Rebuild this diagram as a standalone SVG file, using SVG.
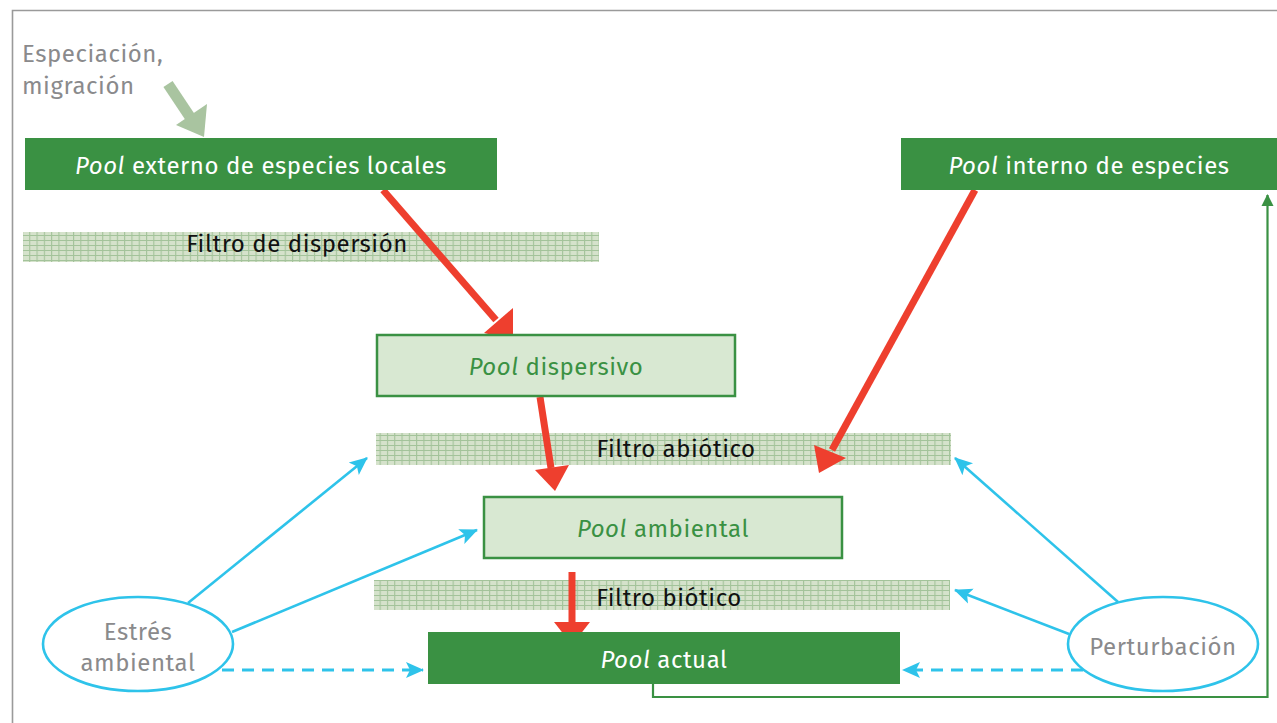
<svg xmlns="http://www.w3.org/2000/svg" width="1277" height="723" viewBox="0 0 1277 723">
<style>
.t{font-family:"Fira Sans","Open Sans","Noto Sans",sans-serif;font-size:24px;letter-spacing:0.55px}
.w{fill:#ffffff}
.g{fill:#3a9143}
.gr{fill:#8a8a8c}
.k{fill:#111111}
.dark{fill:#3a9143}
.light{fill:#d8e8d2;stroke:#3a9143;stroke-width:2.5}
.red{stroke:#ee3f2e;stroke-width:7;fill:none}
.blue{stroke:#2ec3ea;stroke-width:2.6;fill:none}
.dash{stroke-dasharray:12 8;stroke-width:3}
.ell{fill:#ffffff;stroke:#2ec3ea;stroke-width:2.6}
</style>
<defs>
<pattern id="grid" width="7.3" height="5" patternUnits="userSpaceOnUse">
<rect width="7.3" height="5" fill="#d5e2cb"/>
<path d="M0 0.5H7.3M0.5 0V5" stroke="#a3c39a" stroke-width="1.2"/>
</pattern>
<marker id="bh2" markerWidth="18" markerHeight="18" refX="17" refY="9" orient="auto" markerUnits="userSpaceOnUse" viewBox="0 0 18 18"><path d="M0 1L18 9L0 17L4 9z" fill="#2ec3ea"/></marker>
<marker id="gh" markerWidth="12" markerHeight="14" refX="11" refY="7" orient="auto" markerUnits="userSpaceOnUse" viewBox="0 0 12 14"><path d="M0 1L12 7L0 13z" fill="#3a9143"/></marker>
</defs>
<rect width="1277" height="723" fill="#ffffff"/>
<path d="M12.5 723V10.5H1277" fill="none" stroke="#9a9a9a" stroke-width="1.6"/>

<g id="label-especiacion">
<text class="t gr" x="22" y="62">Especiación,</text>
<text class="t gr" x="22" y="94">migración</text>
</g>

<g id="filtro-dispersion">
<rect x="23" y="232" width="576" height="30" fill="url(#grid)"/>
<text class="t k" x="297" y="252" text-anchor="middle">Filtro de dispersión</text>
</g>
<g id="filtro-abiotico">
<rect x="376" y="433" width="575" height="32" fill="url(#grid)"/>
<text class="t k" x="676" y="457" text-anchor="middle">Filtro abiótico</text>
</g>
<g id="filtro-biotico">
<rect x="374" y="580" width="576" height="30" fill="url(#grid)"/>
<text class="t k" x="669" y="606" text-anchor="middle">Filtro biótico</text>
</g>

<g id="connectors">
<path d="M168 84L190 117" stroke="#a9c4a0" stroke-width="11" fill="none"/>
<path d="M176 125L207 104L204 137z" fill="#a9c4a0"/>
<path d="M383 190L496 320" class="red"/>
<path d="M484 333L513 308L513 340z" fill="#ee3f2e"/>
<path d="M540 397L551 468" class="red"/>
<path d="M535 470L569 465L555 491z" fill="#ee3f2e"/>
<path d="M975 190L832 450" class="red"/>
<path d="M814 445L846 458L819 473z" fill="#ee3f2e"/>
<path d="M572 572V625" class="red"/>
<path d="M554 622H590L572 645z" fill="#ee3f2e"/>
<path d="M188 603L367 458" class="blue" marker-end="url(#bh2)"/>
<path d="M232 632L477 530" class="blue" marker-end="url(#bh2)"/>
<path d="M222 670H423" class="blue dash" marker-end="url(#bh2)"/>
<path d="M1118 602L955 458" class="blue" marker-end="url(#bh2)"/>
<path d="M1069 634L955 590" class="blue" marker-end="url(#bh2)"/>
<path d="M1083 670H903" class="blue dash" marker-end="url(#bh2)"/>
<path d="M653 684V697H1267.5V195" fill="none" stroke="#3a9143" stroke-width="2.2" marker-end="url(#gh)"/>
</g>

<g id="pool-externo">
<rect class="dark" x="25" y="138" width="472" height="52"/>
<text class="t w" x="261" y="174" text-anchor="middle"><tspan font-style="italic">Pool</tspan> externo de especies locales</text>
</g>
<g id="pool-interno">
<rect class="dark" x="901" y="138" width="376" height="52"/>
<text class="t w" x="1089" y="174" text-anchor="middle"><tspan font-style="italic">Pool</tspan> interno de especies</text>
</g>
<g id="pool-dispersivo">
<rect class="light" x="377" y="335" width="358" height="61"/>
<text class="t g" x="556" y="375" text-anchor="middle"><tspan font-style="italic">Pool</tspan> dispersivo</text>
</g>
<g id="pool-ambiental">
<rect class="light" x="484" y="497" width="358" height="61"/>
<text class="t g" x="663" y="537" text-anchor="middle"><tspan font-style="italic">Pool</tspan> ambiental</text>
</g>
<g id="pool-actual">
<rect class="dark" x="428" y="632" width="472" height="52"/>
<text class="t w" x="664" y="668" text-anchor="middle"><tspan font-style="italic">Pool</tspan> actual</text>
</g>
<g id="estres">
<ellipse class="ell" cx="138" cy="644" rx="95" ry="47"/>
<text class="t gr" x="138" y="640" text-anchor="middle">Estrés</text>
<text class="t gr" x="138" y="671" text-anchor="middle">ambiental</text>
</g>
<g id="perturbacion">
<ellipse class="ell" cx="1163" cy="644" rx="95" ry="47"/>
<text class="t gr" x="1163" y="655" text-anchor="middle">Perturbación</text>
</g>
</svg>
